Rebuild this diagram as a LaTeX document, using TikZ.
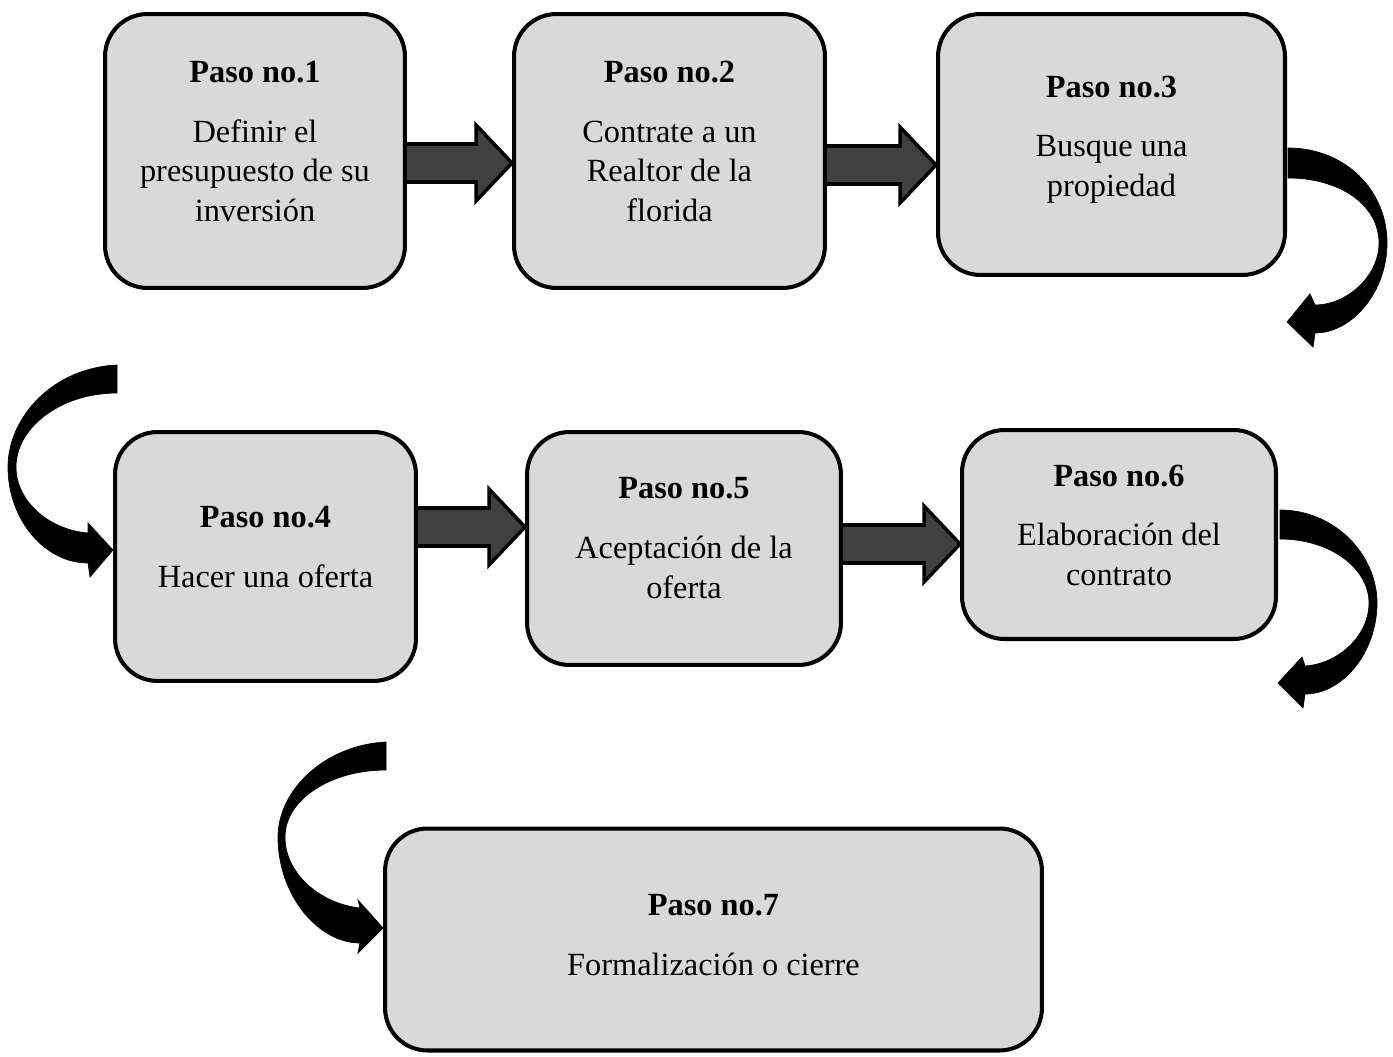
\documentclass[tikz,border=0pt]{standalone}
\usepackage{fontspec}
\setmainfont{Liberation Serif}
\usetikzlibrary{calc}

\definecolor{boxgray}{RGB}{217,217,217}
\definecolor{arrowgray}{RGB}{64,64,64}

% block arrow from the east side of #1 to the west side of #2, at height #3
\newcommand{\blockarrow}[3]{%
  \draw [blockarrow] ($(#1.east |- 0,#3)+(-2,-19)$) -- ($(#2.west |- 0,#3)+(-36,-19)$) -- ($(#2.west |- 0,#3)+(-36,-38)$) -- (#2.west |- 0,#3) -- ($(#2.west |- 0,#3)+(-36,38)$) -- ($(#2.west |- 0,#3)+(-36,19)$) -- ($(#1.east |- 0,#3)+(-2,19)$) -- cycle;}

\begin{document}
\begin{tikzpicture}[x=0.02cm, y=-0.02cm]

% definitions
\tikzstyle{paso} = [rectangle, rounded corners=0.85cm, draw=black, line width=2.3pt, fill=boxgray, inner sep=0pt, font=\fontsize{18.4}{22.5}\selectfont]

\tikzstyle{blockarrow} = [draw=black, line width=2pt, fill=arrowgray, line join=miter]

\tikzstyle{curvearrow} = [draw=black, line width=0.4pt, fill=black]

\useasboundingbox (0,0) rectangle (1393,1057);

% the steps
\node (p1) [paso, minimum width=6cm, minimum height=5.48cm] at (255,151) {\begin{tabular}{c}\textbf{Paso no.1}\\[11.5pt] Definir el\\ presupuesto de su\\ inversión\\[8pt]\end{tabular}};

\node (p2) [paso, minimum width=6.22cm, minimum height=5.48cm] at (669.5,151) {\begin{tabular}{c}\textbf{Paso no.2}\\[11.5pt] Contrate a un\\ Realtor de la\\ florida\\[8pt]\end{tabular}};

\node (p3) [paso, minimum width=6.94cm, minimum height=5.22cm] at (1111.5,144.5) {\begin{tabular}{c}\textbf{Paso no.3}\\[11.5pt] Busque una\\ propiedad\\[6.5pt]\end{tabular}};

\node (p4) [paso, minimum width=6.02cm, minimum height=4.98cm] at (265.5,556.5) {\begin{tabular}{c}\textbf{Paso no.4}\\[11.5pt] Hacer una oferta\\[7.5pt]\end{tabular}};

\node (p5) [paso, minimum width=6.28cm, minimum height=4.66cm] at (684,548.5) {\begin{tabular}{c}\textbf{Paso no.5}\\[11.5pt] Aceptación de la\\ oferta\\[9pt]\end{tabular}};

\node (p6) [paso, minimum width=6.28cm, minimum height=4.18cm] at (1119,534.5) {\begin{tabular}{c}\textbf{Paso no.6}\\[11.5pt] Elaboración del\\ contrato\\[7.5pt]\end{tabular}};

\node (p7) [paso, minimum width=13.14cm, minimum height=4.44cm] at (713.5,939.5) {\begin{tabular}{c}\textbf{Paso no.7}\\[11.5pt] Formalización o cierre\\[2pt]\end{tabular}};

% straight arrows
\blockarrow{p1}{p2}{163}
\blockarrow{p2}{p3}{165}
\blockarrow{p4}{p5}{527}
\blockarrow{p5}{p6}{544}

% curved arrows
\draw [curvearrow] (1288,148) .. controls (1345,148) and (1387,190) .. (1387,243) .. controls (1387,292) and (1352,333) .. (1315,333) -- (1313,347) -- (1287,322) -- (1310,294) -- (1315,305) .. controls (1347,305) and (1379,276) .. (1379,243) .. controls (1379,205) and (1340,178) .. (1288,178) -- cycle;

\draw [curvearrow] (117,365) .. controls (52,368) and (8,418) .. (8,467) .. controls (8,520) and (45,563) .. (88,563) -- (90,577) -- (113,550) -- (88,523) -- (88,533) .. controls (50,530) and (16,502) .. (16,467) .. controls (16,428) and (60,393) .. (117,393) -- cycle;

\draw [curvearrow] (1280,510) .. controls (1335,510) and (1377,555) .. (1377,603) .. controls (1377,652) and (1343,694) .. (1305,694) -- (1303,708) -- (1278,683) -- (1302,657) -- (1305,666) .. controls (1338,664) and (1369,636) .. (1369,603) .. controls (1369,568) and (1330,539) .. (1280,539) -- cycle;

\draw [curvearrow] (386,742) .. controls (325,745) and (278,790) .. (278,837) .. controls (278,895) and (318,943) .. (360,943) -- (358,953) -- (383,928) -- (358,900) -- (360,908) .. controls (322,904) and (285,875) .. (285,837) .. controls (285,800) and (330,770) .. (386,770) -- cycle;

\end{tikzpicture}
\end{document}
